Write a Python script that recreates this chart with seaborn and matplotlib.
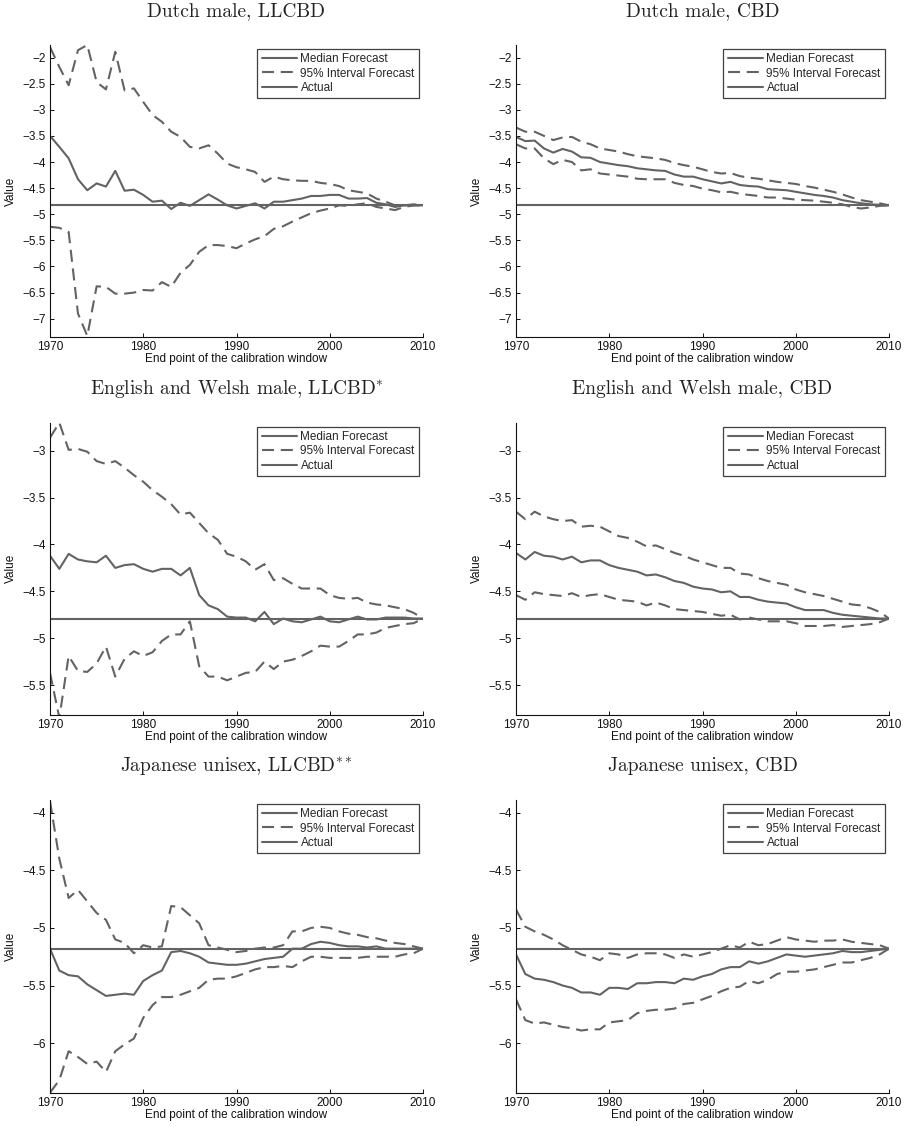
import matplotlib
matplotlib.use("Agg")
import matplotlib.pyplot as plt
from matplotlib.ticker import FuncFormatter, MultipleLocator
import numpy as np
import pandas as pd
import seaborn as sns

# ---------------------------------------------------------------- data
years = list(range(1970, 2011))

# Dutch male, LLCBD
nl_llcbd_median = [-3.50, -3.71, -3.93, -4.33, -4.54, -4.41, -4.47, -4.17, -4.55, -4.53,
                   -4.63, -4.76, -4.74, -4.90, -4.78, -4.84, -4.73, -4.62, -4.72, -4.83,
                   -4.89, -4.84, -4.79, -4.89, -4.76, -4.76, -4.73, -4.70, -4.65, -4.65,
                   -4.63, -4.63, -4.70, -4.70, -4.69, -4.78, -4.81, -4.86, -4.83, -4.83,
                   -4.83]
nl_llcbd_upper = [-1.80, -2.18, -2.53, -1.86, -1.76, -2.47, -2.61, -1.89, -2.63, -2.59,
                  -2.85, -3.10, -3.23, -3.42, -3.52, -3.71, -3.74, -3.68, -3.84, -4.03,
                  -4.10, -4.14, -4.19, -4.38, -4.28, -4.33, -4.35, -4.36, -4.36, -4.40,
                  -4.42, -4.46, -4.54, -4.57, -4.60, -4.70, -4.76, -4.83, -4.83, -4.81,
                  -4.83]
nl_llcbd_lower = [-5.24, -5.26, -5.34, -6.90, -7.33, -6.38, -6.39, -6.52, -6.52, -6.50,
                  -6.45, -6.46, -6.30, -6.39, -6.12, -5.97, -5.72, -5.59, -5.59, -5.61,
                  -5.65, -5.56, -5.48, -5.42, -5.28, -5.23, -5.14, -5.06, -4.98, -4.93,
                  -4.89, -4.83, -4.84, -4.81, -4.79, -4.86, -4.89, -4.92, -4.86, -4.83,
                  -4.83]

# Dutch male, CBD
nl_cbd_median = [-3.52, -3.60, -3.59, -3.74, -3.82, -3.75, -3.80, -3.91, -3.92, -4.00,
                 -4.03, -4.06, -4.08, -4.12, -4.14, -4.16, -4.17, -4.24, -4.28, -4.28,
                 -4.33, -4.37, -4.41, -4.38, -4.44, -4.46, -4.47, -4.52, -4.53, -4.54,
                 -4.57, -4.60, -4.63, -4.65, -4.68, -4.73, -4.76, -4.79, -4.81, -4.82,
                 -4.83]
nl_cbd_upper = [-3.34, -3.42, -3.42, -3.50, -3.58, -3.53, -3.52, -3.61, -3.66, -3.74,
                -3.77, -3.80, -3.85, -3.89, -3.91, -3.93, -3.96, -4.02, -4.06, -4.09,
                -4.14, -4.19, -4.22, -4.21, -4.27, -4.30, -4.32, -4.35, -4.38, -4.40,
                -4.42, -4.46, -4.49, -4.53, -4.57, -4.62, -4.68, -4.73, -4.76, -4.79,
                -4.83]
nl_cbd_lower = [-3.66, -3.74, -3.74, -3.93, -4.04, -3.96, -4.00, -4.16, -4.14, -4.22,
                -4.24, -4.26, -4.28, -4.32, -4.33, -4.33, -4.33, -4.40, -4.44, -4.46,
                -4.51, -4.54, -4.58, -4.57, -4.61, -4.63, -4.65, -4.68, -4.68, -4.70,
                -4.72, -4.73, -4.74, -4.76, -4.78, -4.81, -4.86, -4.89, -4.87, -4.84,
                -4.83]

# English and Welsh male, LLCBD*
ew_llcbd_median = [-4.12, -4.26, -4.10, -4.16, -4.18, -4.19, -4.12, -4.25, -4.22, -4.21,
                   -4.26, -4.29, -4.26, -4.26, -4.33, -4.25, -4.54, -4.65, -4.69, -4.77,
                   -4.78, -4.78, -4.82, -4.72, -4.85, -4.79, -4.82, -4.83, -4.80, -4.77,
                   -4.82, -4.83, -4.80, -4.77, -4.80, -4.80, -4.78, -4.78, -4.78, -4.79,
                   -4.79]
ew_llcbd_upper = [-2.86, -2.70, -2.99, -2.98, -3.01, -3.11, -3.14, -3.11, -3.18, -3.26,
                  -3.33, -3.42, -3.49, -3.57, -3.68, -3.66, -3.77, -3.88, -3.95, -4.10,
                  -4.13, -4.18, -4.27, -4.21, -4.38, -4.36, -4.42, -4.47, -4.47, -4.47,
                  -4.54, -4.57, -4.58, -4.57, -4.62, -4.64, -4.65, -4.67, -4.69, -4.73,
                  -4.79]
ew_llcbd_lower = [-5.37, -5.85, -5.19, -5.35, -5.36, -5.27, -5.09, -5.41, -5.22, -5.14,
                  -5.19, -5.15, -5.03, -4.96, -4.96, -4.82, -5.30, -5.41, -5.41, -5.45,
                  -5.41, -5.37, -5.36, -5.25, -5.33, -5.25, -5.23, -5.19, -5.14, -5.08,
                  -5.09, -5.09, -5.03, -4.96, -4.96, -4.94, -4.89, -4.87, -4.85, -4.84,
                  -4.79]

# English and Welsh male, CBD
ew_cbd_median = [-4.09, -4.16, -4.08, -4.12, -4.13, -4.16, -4.13, -4.19, -4.17, -4.17,
                 -4.22, -4.25, -4.27, -4.29, -4.33, -4.32, -4.35, -4.39, -4.41, -4.45,
                 -4.47, -4.48, -4.51, -4.50, -4.56, -4.56, -4.59, -4.61, -4.62, -4.63,
                 -4.67, -4.70, -4.70, -4.70, -4.73, -4.75, -4.76, -4.77, -4.78, -4.79,
                 -4.79]
ew_cbd_upper = [-3.65, -3.73, -3.65, -3.70, -3.73, -3.75, -3.74, -3.81, -3.80, -3.81,
                -3.86, -3.91, -3.93, -3.97, -4.02, -4.01, -4.05, -4.09, -4.12, -4.16,
                -4.19, -4.22, -4.25, -4.25, -4.31, -4.32, -4.36, -4.39, -4.41, -4.43,
                -4.48, -4.51, -4.53, -4.55, -4.58, -4.61, -4.64, -4.65, -4.68, -4.72,
                -4.79]
ew_cbd_lower = [-4.54, -4.59, -4.51, -4.53, -4.54, -4.55, -4.52, -4.56, -4.54, -4.53,
                -4.56, -4.59, -4.60, -4.61, -4.65, -4.62, -4.65, -4.69, -4.70, -4.71,
                -4.72, -4.74, -4.76, -4.75, -4.80, -4.78, -4.80, -4.82, -4.82, -4.82,
                -4.84, -4.87, -4.87, -4.87, -4.86, -4.88, -4.87, -4.86, -4.85, -4.83,
                -4.79]

# Japanese unisex, LLCBD**
jp_llcbd_median = [-5.18, -5.37, -5.41, -5.42, -5.49, -5.54, -5.59, -5.58, -5.57, -5.58,
                   -5.46, -5.41, -5.37, -5.21, -5.20, -5.22, -5.25, -5.30, -5.31, -5.32,
                   -5.32, -5.31, -5.29, -5.27, -5.26, -5.25, -5.18, -5.18, -5.14, -5.12,
                   -5.13, -5.15, -5.16, -5.16, -5.17, -5.16, -5.18, -5.18, -5.18, -5.18,
                   -5.18]
jp_llcbd_upper = [-3.90, -4.40, -4.74, -4.67, -4.77, -4.87, -4.93, -5.10, -5.13, -5.22,
                  -5.15, -5.17, -5.16, -4.81, -4.82, -4.89, -4.96, -5.15, -5.17, -5.19,
                  -5.21, -5.20, -5.18, -5.17, -5.17, -5.15, -5.03, -5.03, -5.00, -4.99,
                  -5.00, -5.03, -5.05, -5.06, -5.08, -5.09, -5.11, -5.13, -5.14, -5.16,
                  -5.18]
jp_llcbd_lower = [-6.43, -6.32, -6.07, -6.12, -6.18, -6.16, -6.25, -6.07, -6.01, -5.96,
                  -5.78, -5.67, -5.60, -5.60, -5.58, -5.55, -5.52, -5.45, -5.44, -5.44,
                  -5.42, -5.39, -5.36, -5.34, -5.34, -5.33, -5.34, -5.29, -5.25, -5.25,
                  -5.26, -5.26, -5.26, -5.26, -5.25, -5.25, -5.25, -5.25, -5.23, -5.22,
                  -5.18]

# Japanese unisex, CBD
jp_cbd_median = [-5.23, -5.40, -5.44, -5.45, -5.47, -5.50, -5.52, -5.56, -5.56, -5.58,
                 -5.52, -5.52, -5.53, -5.48, -5.48, -5.47, -5.47, -5.48, -5.44, -5.45,
                 -5.42, -5.40, -5.36, -5.34, -5.34, -5.29, -5.31, -5.29, -5.26, -5.23,
                 -5.24, -5.25, -5.24, -5.23, -5.22, -5.20, -5.21, -5.21, -5.20, -5.19,
                 -5.18]
jp_cbd_upper = [-4.84, -4.99, -5.03, -5.06, -5.10, -5.15, -5.19, -5.23, -5.25, -5.28,
                -5.22, -5.23, -5.26, -5.23, -5.22, -5.22, -5.23, -5.26, -5.23, -5.25,
                -5.23, -5.21, -5.18, -5.15, -5.17, -5.12, -5.15, -5.14, -5.11, -5.08,
                -5.10, -5.11, -5.12, -5.11, -5.11, -5.10, -5.12, -5.13, -5.14, -5.15,
                -5.18]
jp_cbd_lower = [-5.62, -5.80, -5.83, -5.82, -5.84, -5.86, -5.87, -5.89, -5.88, -5.88,
                -5.82, -5.81, -5.80, -5.74, -5.72, -5.71, -5.71, -5.70, -5.66, -5.65,
                -5.62, -5.59, -5.55, -5.52, -5.51, -5.46, -5.48, -5.45, -5.40, -5.38,
                -5.38, -5.37, -5.36, -5.34, -5.32, -5.30, -5.30, -5.28, -5.26, -5.23,
                -5.18]

# realised values
nl_actual = -4.83
ew_actual = -4.79
jp_actual = -5.18

titles = ["Dutch male, LLCBD", "Dutch male, CBD",
          "English and Welsh male, LLCBD$^{*}$", "English and Welsh male, CBD",
          "Japanese unisex, LLCBD$^{**}$", "Japanese unisex, CBD"]
legend_labels = ["Median Forecast", "95% Interval Forecast", "Actual"]
x_label = "End point of the calibration window"
y_label = "Value"
x_ticks = [1970, 1980, 1990, 2000, 2010]

panels = [
    (nl_llcbd_median, nl_llcbd_upper, nl_llcbd_lower, nl_actual),
    (nl_cbd_median, nl_cbd_upper, nl_cbd_lower, nl_actual),
    (ew_llcbd_median, ew_llcbd_upper, ew_llcbd_lower, ew_actual),
    (ew_cbd_median, ew_cbd_upper, ew_cbd_lower, ew_actual),
    (jp_llcbd_median, jp_llcbd_upper, jp_llcbd_lower, jp_actual),
    (jp_cbd_median, jp_cbd_upper, jp_cbd_lower, jp_actual),
]
row_ylims = [(-7.35, -1.76), (-5.82, -2.70), (-6.435, -3.89)]

# ---------------------------------------------------------------- style
sns.set_style("ticks")
plt.rcParams["font.family"] = ["Liberation Sans", "DejaVu Sans"]
plt.rcParams["mathtext.fontset"] = "cm"

LINE = "#636363"
LW = 1.5
DASH = (0, (5.8, 3.2))

fig = plt.figure(figsize=(9.08, 11.27), dpi=100)
W, H = 908.0, 1127.0
col_left = [50, 516]
row_box = [(45, 337), (422.7, 715), (800, 1093.3)]
ax_w = 373


def fmt(v, _):
    s = f"{v:g}"
    return s.replace("-", "\u2212")


for i, (med, up, lo, act) in enumerate(panels):
    r, c = divmod(i, 2)
    top, bot = row_box[r]
    ax = fig.add_axes([col_left[c] / W, 1 - bot / H, ax_w / W, (bot - top) / H])

    df = pd.DataFrame({"year": years, "median": med, "upper": up, "lower": lo,
                       "actual": [act] * len(years)})

    sns.lineplot(data=df, x="year", y="median", ax=ax, color=LINE, lw=LW,
                 label=legend_labels[0])
    sns.lineplot(data=df, x="year", y="upper", ax=ax, color=LINE, lw=LW,
                 linestyle=DASH, label=legend_labels[1])
    sns.lineplot(data=df, x="year", y="lower", ax=ax, color=LINE, lw=LW,
                 linestyle=DASH)
    sns.lineplot(data=df, x="year", y="actual", ax=ax, color=LINE, lw=LW,
                 label=legend_labels[2])

    ax.set_xlim(1970, 2010)
    ax.set_ylim(*row_ylims[r])
    ax.set_xticks(x_ticks)
    ax.yaxis.set_major_locator(MultipleLocator(0.5))
    ax.yaxis.set_major_formatter(FuncFormatter(fmt))
    ax.tick_params(direction="in", length=3, width=0.7, labelsize=8.5,
                   colors="#111111", pad=3)
    for side in ("top", "right"):
        ax.spines[side].set_visible(False)
    for side in ("left", "bottom"):
        ax.spines[side].set_color("#111111")
        ax.spines[side].set_linewidth(0.8)

    ax.set_xlabel(x_label, fontsize=8.5, labelpad=0, color="#111111")
    ax.set_ylabel(y_label, fontsize=8.5, labelpad=4, color="#111111")
    ax.set_title(titles[i], fontsize=14, fontfamily="cmr10", pad=21,
                 color="#222222")

    leg = ax.legend(loc="upper right", fontsize=8.5, frameon=True, fancybox=False,
                    handlelength=3.0, handletextpad=0.3, labelspacing=0.2,
                    borderpad=0.35, borderaxespad=0.35)
    leg.get_frame().set_edgecolor("#111111")
    leg.get_frame().set_linewidth(0.9)
    leg.get_frame().set_facecolor("white")

fig.savefig("out.png", dpi=100, facecolor="white")
